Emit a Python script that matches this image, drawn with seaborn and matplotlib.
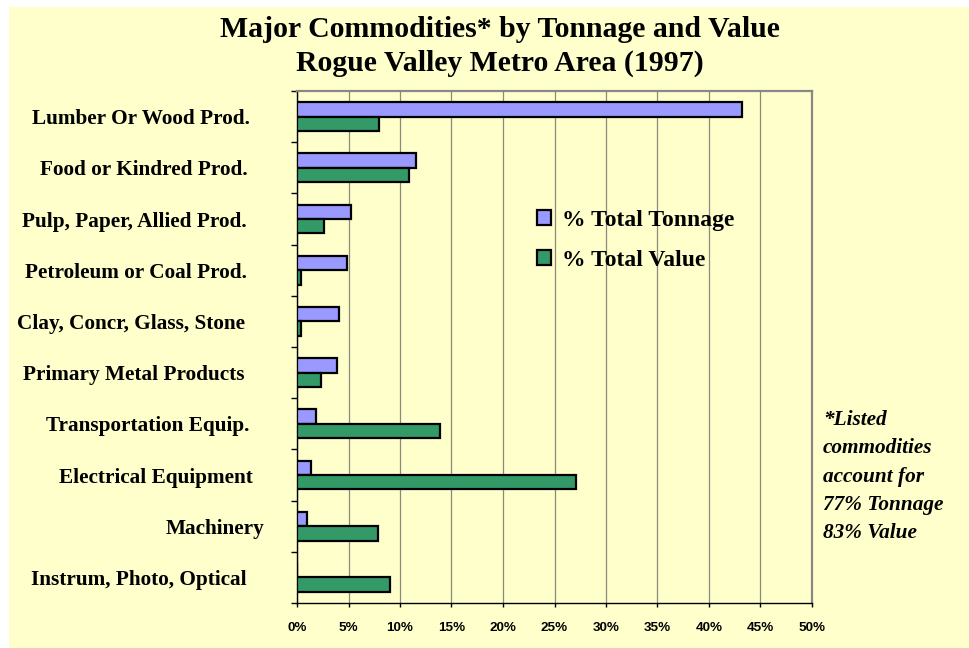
import matplotlib
matplotlib.use("Agg")
import matplotlib.pyplot as plt
import matplotlib.patches as mpatches
import matplotlib.transforms as mtransforms
import seaborn as sns
import pandas as pd
import numpy as np

# chart data (percent)
commodities = ["Lumber Or Wood Prod.", "Food or Kindred Prod.", "Pulp, Paper, Allied Prod.",
               "Petroleum or Coal Prod.", "Clay, Concr, Glass, Stone", "Primary Metal Products",
               "Transportation Equip.", "Electrical Equipment", "Machinery",
               "Instrum, Photo, Optical"]
tonnage = [43.2, 11.6, 5.2, 4.85, 4.05, 3.85, 1.8, 1.4, 1.0, 0.0]
value = [8.0, 10.9, 2.65, 0.4, 0.35, 2.3, 13.9, 27.1, 7.9, 9.0]
series = ["% Total Tonnage", "% Total Value"]
x_ticks = list(range(0, 51, 5))
title_lines = ["Major Commodities* by Tonnage and Value", "Rogue Valley Metro Area (1997)"]
note_lines = ["*Listed", "commodities", "account for", "77% Tonnage", "83% Value"]

# small horizontal nudges (px) of the category labels, as in the original layout
label_shift = [0, -2, -3, -3, -5, -5, 0, 3, 15, -3]

W, H = 970, 648
BG = "#FFFFCC"
colors = ["#9999FF", "#339966"]

df = pd.DataFrame({
    "commodity": commodities * 2,
    "pct": tonnage + value,
    "series": [series[0]] * len(commodities) + [series[1]] * len(commodities),
})

sns.set_style("white")
plt.rcParams["font.family"] = ["Liberation Serif", "DejaVu Serif"]
plt.rcParams["text.color"] = "black"
plt.rcParams["xtick.color"] = "black"
plt.rcParams["ytick.color"] = "black"
plt.rcParams["axes.labelcolor"] = "black"

fig = plt.figure(figsize=(W / 100, H / 100), dpi=100, facecolor="white")
# yellow chart area (small white margin top/left)
fig.patches.append(mpatches.Rectangle((9 / W, 0), 1 - 9 / W, 1 - 7 / H, transform=fig.transFigure,
                                      facecolor=BG, edgecolor="none", zorder=-10))

def fx(px):
    return px / W

def fy(py):
    return 1 - py / H

ax = fig.add_axes([fx(297), fy(603), fx(812) - fx(297), fy(91) - fy(603)])
ax.set_facecolor(BG)

sns.barplot(data=df, y="commodity", x="pct", hue="series", orient="h", palette=colors,
            width=0.566, edgecolor="black", linewidth=1.6, ax=ax, zorder=3, legend=True,
            saturation=1)

ax.set_xlim(0, 50)
ax.set_ylim(len(commodities) - 0.5, -0.5)
ax.set_xlabel("")
ax.set_ylabel("")

ax.set_xticks(x_ticks)
ax.set_xticklabels([f"{t}%" for t in x_ticks], fontfamily="Liberation Sans",
                   fontweight="bold", fontsize=9.7, color="black")
ax.tick_params(axis="x", direction="out", length=3, width=1, color="black", pad=10.5, bottom=True)
ax.xaxis.grid(True, color="#8a8a7a", linewidth=0.9, zorder=0)
ax.set_axisbelow(True)

ax.set_yticks(range(len(commodities)))
ax.set_yticklabels(commodities, fontweight="bold", fontsize=15.3, color="black")
ax.tick_params(axis="y", which="major", length=0, pad=34)
ax.set_yticks(np.arange(-0.5, len(commodities), 1.0), minor=True)
ax.tick_params(axis="y", which="minor", direction="out", length=4, width=1, color="black", left=True)

for lbl, dx in zip(ax.get_yticklabels(), label_shift):
    lbl.set_transform(lbl.get_transform() +
                      mtransforms.ScaledTranslation(dx / 100, 0, fig.dpi_scale_trans))

for s in ["top", "right"]:
    ax.spines[s].set_color("#888888")
    ax.spines[s].set_linewidth(1.6)
for s in ["left", "bottom"]:
    ax.spines[s].set_color("black")
    ax.spines[s].set_linewidth(1.0)

handles = [mpatches.Patch(facecolor=c, edgecolor="black", linewidth=1.6) for c in colors]
ax.legend(handles, series, frameon=False, loc="upper left",
          bbox_to_anchor=(fx(537), fy(210)), bbox_transform=fig.transFigure,
          prop={"family": "Liberation Serif", "weight": "bold", "size": 17},
          handlelength=0.6, handleheight=0.6, handletextpad=0.45, labelspacing=0.8,
          borderpad=0, borderaxespad=0)

fig.text(fx(500), fy(37), title_lines[0], ha="center", va="baseline",
         fontsize=21.4, fontweight="bold", color="black")
fig.text(fx(500), fy(71), title_lines[1], ha="center", va="baseline",
         fontsize=21.4, fontweight="bold", color="black")

for i, line in enumerate(note_lines):
    fig.text(fx(823), fy(425 + 28.3 * i), line, ha="left", va="baseline",
             fontsize=15.3, fontweight="bold", fontstyle="italic", color="black")

fig.savefig("out.png", dpi=100, facecolor="white")
